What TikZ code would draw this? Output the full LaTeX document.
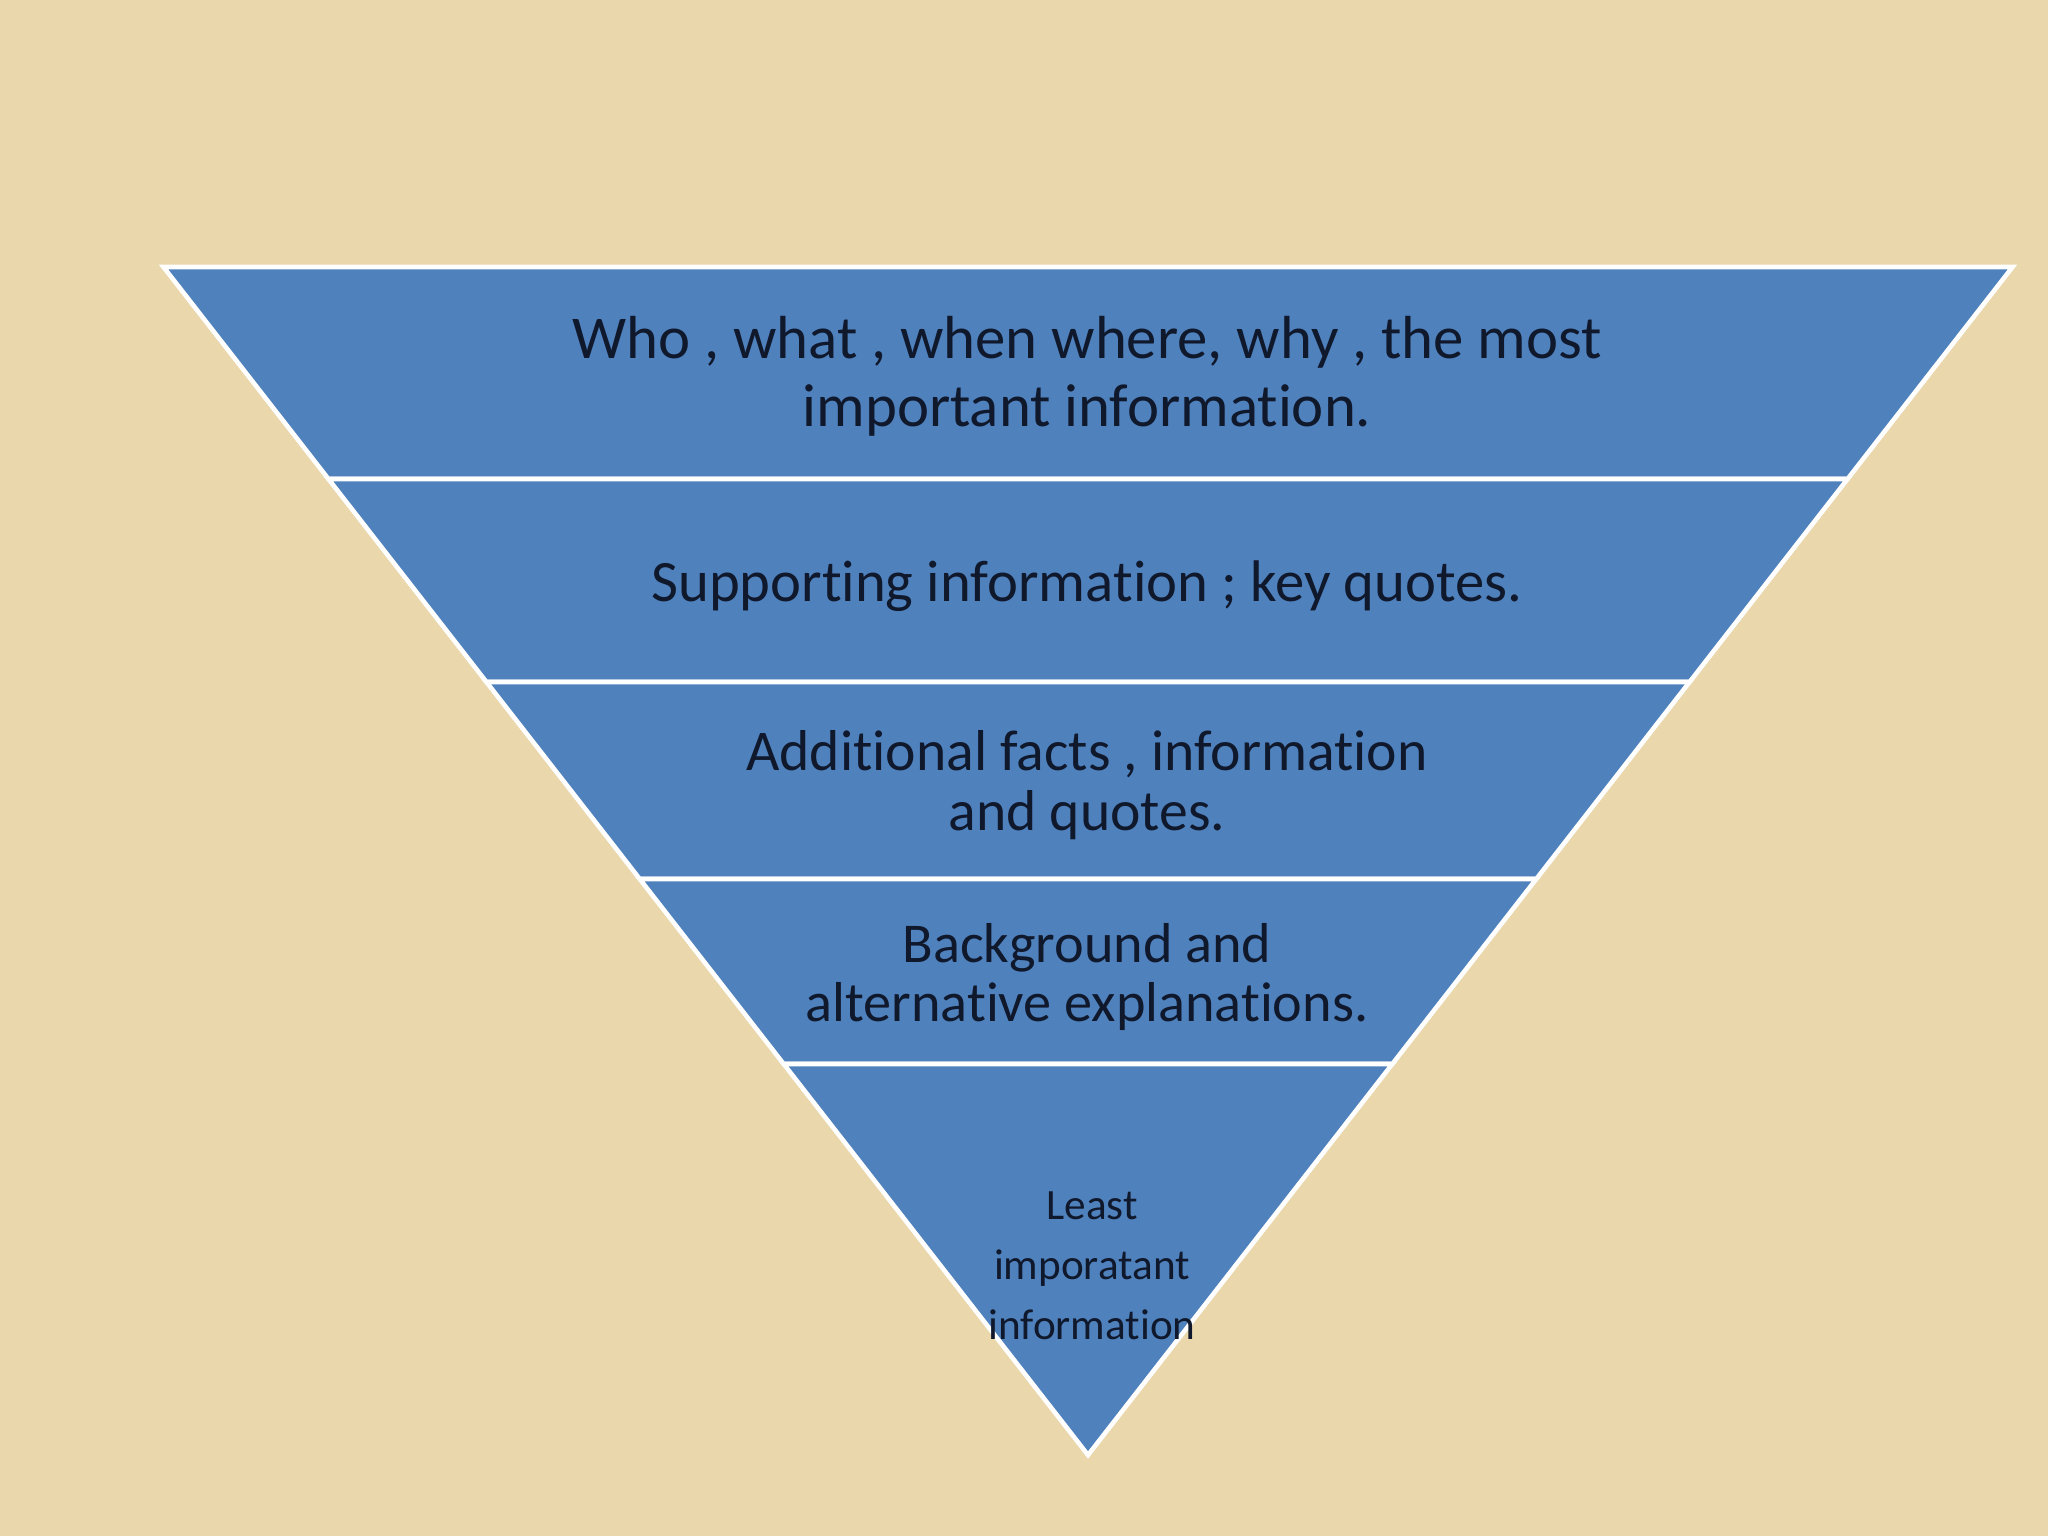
\documentclass[tikz,border=0pt]{standalone}
\usepackage{fontspec}
\setmainfont{Carlito}[Ligatures=NoCommon]
\definecolor{paper}{RGB}{234,215,172}
\definecolor{bandblue}{RGB}{79,129,189}
\definecolor{inkblue}{RGB}{16,24,44}

\begin{document}
\begin{tikzpicture}[x=0.1mm, y=-0.1mm,
  band/.style={fill=bandblue, draw=white, line width=1.3pt, line join=miter},
  bandtext/.style={text=inkblue, align=center, inner sep=0pt, font=\fontsize{16}{17}\selectfont},
  tiptext/.style={text=inkblue, align=center, inner sep=0pt, font=\fontsize{12.3}{17}\selectfont}]
  \fill[paper] (0,0) rectangle (2048,1536);
  \useasboundingbox (0,0) rectangle (2048,1536);
  % the four upper bands of the inverted pyramid
  \foreach \ya/\yb in {267/479, 479/682, 682/879, 879/1064}
    \draw[band] ({1088-0.7782*(1455-\ya)},\ya) -- ({1088+0.7782*(1455-\ya)},\ya)
      -- ({1088+0.7782*(1455-\yb)},\yb) -- ({1088-0.7782*(1455-\yb)},\yb) -- cycle;
  % the tip
  \draw[band] ({1088-0.7782*(1455-1064)},1064) -- ({1088+0.7782*(1455-1064)},1064)
    -- (1088,1455) -- cycle;
  \node[bandtext, font=\fontsize{17.3}{19.4}\selectfont] (who) at (1087,376)
    {Who , what , when where, why , the most\\important information.};
  \node[bandtext, font=\fontsize{16.7}{17}\selectfont] (support) at (1087,586) {Supporting information ; key quotes.};
  \node[bandtext, font=\fontsize{16.4}{17.2}\selectfont] (facts) at (1087,785) {Additional facts , information\\and quotes.};
  \node[bandtext] (background) at (1087,977) {Background and\\alternative explanations.};
  \node[tiptext] (least) at (1092,1266) {Least\\imporatant\\information};
\end{tikzpicture}
\end{document}
